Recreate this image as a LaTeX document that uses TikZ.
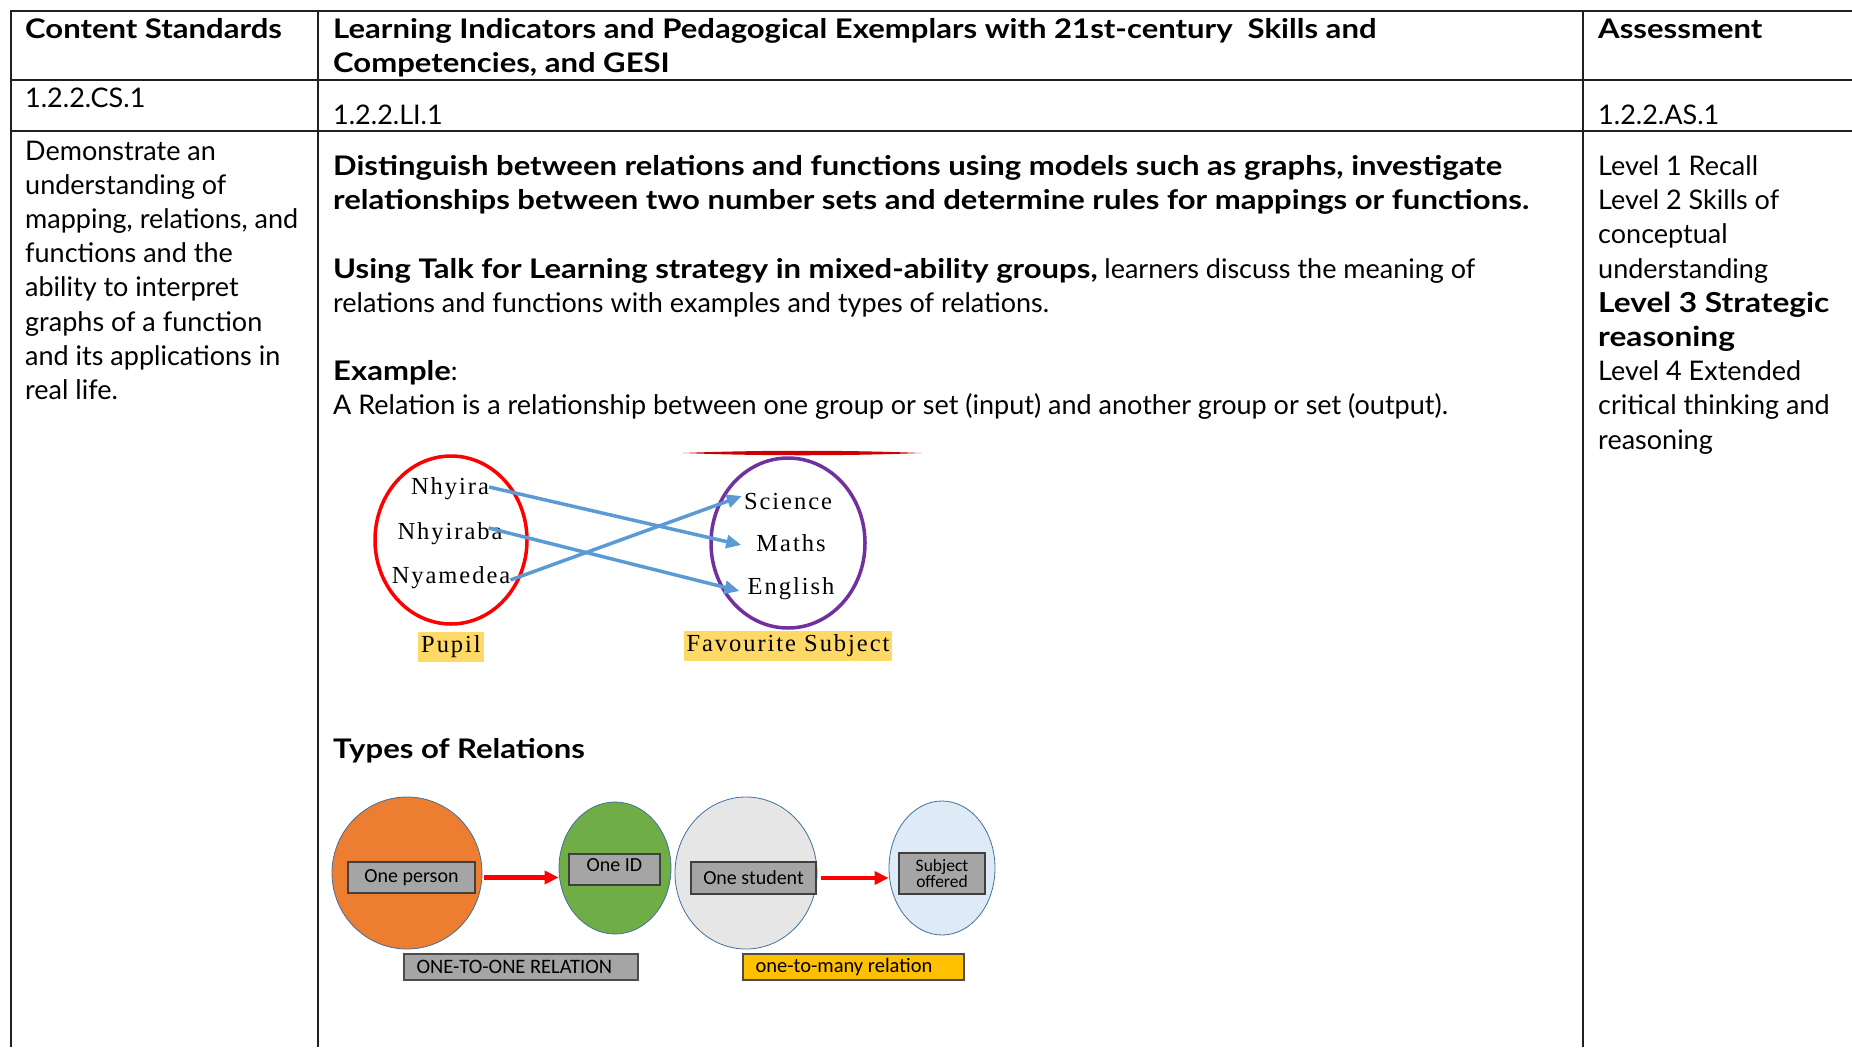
\documentclass[tikz,border=0pt]{standalone}
\usepackage{fontspec}
\setmainfont{Lato}[BoldFeatures={FakeStretch=1.15}]
\newfontfamily\mapfont{Liberation Serif}[LetterSpace=8]
\newfontfamily\calib{Carlito}
\usetikzlibrary{arrows.meta,shapes.geometric}
\definecolor{rulec}{HTML}{231F20}
\definecolor{mapblue}{HTML}{5B9BD5}
\definecolor{mappurple}{HTML}{7030A0}
\definecolor{lblyellow}{HTML}{FFD966}
\definecolor{orangec}{HTML}{ED7D31}
\definecolor{greenc}{HTML}{70AD47}
\definecolor{lgray}{HTML}{E7E6E6}
\definecolor{lblue}{HTML}{DEEBF7}
\definecolor{boxgray}{HTML}{A5A5A5}
\definecolor{gold}{HTML}{FFC000}
\definecolor{ellline}{HTML}{41719C}
\begin{document}
\begin{tikzpicture}[x=1pt,y=-1pt,
  rule/.style={draw=rulec,line width=2pt},
  txt/.style={anchor=base west,inner sep=0pt,font=\fontsize{27}{34}\selectfont},
  btxt/.style={anchor=base west,inner sep=0pt,font=\fontsize{27}{34}\selectfont\bfseries},
  bigb/.style={anchor=base west,inner sep=0pt,font=\fontsize{27.5}{34}\selectfont\bfseries},
  mtxt/.style={inner sep=0pt,font=\fontsize{24.5}{28}\mapfont},
  mlabel/.style={fill=lblyellow,inner xsep=3pt,inner ysep=4pt,font=\fontsize{24.5}{28}\mapfont},
  barrow/.style={draw=mapblue,line width=3.5pt,-{Triangle[length=15pt,width=13pt]}},
  rarrow/.style={draw=red,line width=4.5pt,-{Triangle[length=14pt,width=13pt]}},
  rel/.style={ellipse,draw=ellline,line width=0.8pt,inner sep=0pt},
  gbox/.style={draw=black!75,line width=1.5pt,fill=boxgray,inner sep=0pt,font=\fontsize{20}{22}\calib},
  tagbox/.style={draw=black!70,line width=1.2pt,inner sep=0pt},
  tagtxt/.style={anchor=west,inner sep=0pt,font=\fontsize{20.5}{22}\calib}
]
\useasboundingbox (0,0) rectangle (1852,1047);
\fill[white] (0,0) rectangle (1852,1047);

% table rules
\draw[rule] (10.5,11) -- (1852,11);
\draw[rule] (10.5,80) -- (1852,80);
\draw[rule] (10.5,130.5) -- (1852,130.5);
\draw[rule] (10.5,10) -- (10.5,1047);
\draw[rule] (318,10) -- (318,1047);
\draw[rule] (1583,10) -- (1583,1047);

% header row
\node[btxt] (h1) at (25,38.3) {Content Standards};
\node[btxt] (h2a) at (333,38.3) {Learning Indicators and Pedagogical Exemplars with 21st-century~ Skills and};
\node[btxt] (h2b) at (333,72.5) {Competencies, and GESI};
\node[btxt] (h3) at (1598,38.3) {Assessment};

% code row
\node[txt] (cs) at (25,107.5) {1.2.2.CS.1};
\node[txt] (li) at (333,124) {1.2.2.LI.1};
\node[txt] (as) at (1598,124) {1.2.2.AS.1};

% left column
\node[txt] (l1) at (25,160) {Demonstrate an};
\node[txt] (l2) at (25,194.2) {understanding of};
\node[txt] (l3) at (25,228.4) {mapping, relations, and};
\node[txt] (l4) at (25,262.6) {functions and the};
\node[txt] (l5) at (25,296.8) {ability to interpret};
\node[txt] (l6) at (25,331) {graphs of a function};
\node[txt] (l7) at (25,365.2) {and its applications in};
\node[txt] (l8) at (25,399.4) {real life.};

% middle column
\node[btxt] (m1) at (333,175.5) {Distinguish between relations and functions using models such as graphs, investigate};
\node[btxt] (m2) at (333,209.7) {relationships between two number sets and determine rules for mappings or functions.};
\node[txt] (m3) at (333,278.1) {\textbf{Using Talk for Learning strategy in mixed-ability groups,} learners discuss the meaning of};
\node[txt] (m4) at (333,312.3) {relations and functions with examples and types of relations.};
\node[txt] (m5) at (333,380.7) {\textbf{Example}:};
\node[txt] (m6) at (333,414.9) {A Relation is a relationship between one group or set (input) and another group or set (output).};
\node[btxt] (m7) at (333,758.4) {Types of Relations};

% right column
\node[txt] (r1) at (1598,175.5) {Level 1 Recall};
\node[txt] (r2) at (1598,209.7) {Level 2 Skills of};
\node[txt] (r3) at (1598,243.9) {conceptual};
\node[txt] (r4) at (1598,278.1) {understanding};
\node[bigb] (r5) at (1598,312.3) {Level 3 Strategic};
\node[bigb] (r6) at (1598,346.5) {reasoning};
\node[txt] (r7) at (1598,380.7) {Level 4 Extended};
\node[txt] (r8) at (1598,414.9) {critical thinking and};
\node[txt] (r9) at (1598,449.1) {reasoning};

% mapping diagram
\draw[red,line width=3.5pt] (451,540) ellipse [x radius=76, y radius=84];
\draw[mappurple,line width=3.5pt] (788,543) ellipse [x radius=77, y radius=85];
\fill[red!80!black] (683,453) .. controls (760,450) and (845,450) .. (921,453) .. controls (845,456) and (760,456) .. (683,453);
\node[mtxt] (nhyira) at (450,489) {Nhyira};
\node[mtxt] (nhyiraba) at (450,534) {Nhyiraba};
\node[mtxt] (nyamedea) at (451,578) {Nyamedea};
\node[mtxt] (science) at (788,502) {Science};
\node[mtxt] (maths) at (791,543) {Maths};
\node[mtxt] (english) at (791,589) {English};
\node[mlabel] (pupil) at (451,647) {Pupil};
\node[mlabel] (fav) at (788,646) {Favourite Subject};
\draw[barrow] ([yshift=2]nhyira.east) -- ([xshift=-15,yshift=-2]maths.west);
\draw[barrow] ([xshift=-14,yshift=6]nhyiraba.east) -- ([xshift=-8,yshift=-2]english.west);
\draw[barrow] ([yshift=-2]nyamedea.east) -- ([xshift=-2,yshift=6]science.west);

% types of relations diagram
\node[rel,fill=orangec,minimum width=150,minimum height=152] (e1) at (407,873) {};
\node[rel,fill=greenc,minimum width=112,minimum height=132] (e2) at (615,868) {};
\node[rel,fill=lgray,minimum width=142,minimum height=152] (e3) at (746,873) {};
\node[rel,fill=lblue,minimum width=106,minimum height=134] (e4) at (942,868) {};
\node[gbox,minimum width=127,minimum height=31] (b1) at (411.5,877.5) {One person};
\node[gbox,minimum width=91,minimum height=31,text depth=9pt] (b2) at (614.5,869.5) {One ID};
\node[gbox,minimum width=125,minimum height=32] (b3) at (753.5,878) {One student};
\node[gbox,minimum width=86,minimum height=41,align=center,font=\fontsize{17.5}{16.5}\calib] (b4) at (942,873.5) {Subject\\offered};
\draw[rarrow] ([xshift=8]b1.east) -- (b1.east -| e2.west);
\draw[rarrow] ([xshift=4]b3.east) -- (b3.east -| e4.west);
\node[tagbox,fill=boxgray,minimum width=234,minimum height=26] (t1) at (521,967) {};
\node[tagtxt] (t1x) at ([xshift=13]t1.west) {ONE-TO-ONE RELATION};
\node[tagbox,fill=gold,minimum width=221,minimum height=26] (t2) at (853.5,967) {};
\node[tagtxt] (t2x) at ([xshift=13]t2.west) {one-to-many relation};
\end{tikzpicture}
\end{document}
